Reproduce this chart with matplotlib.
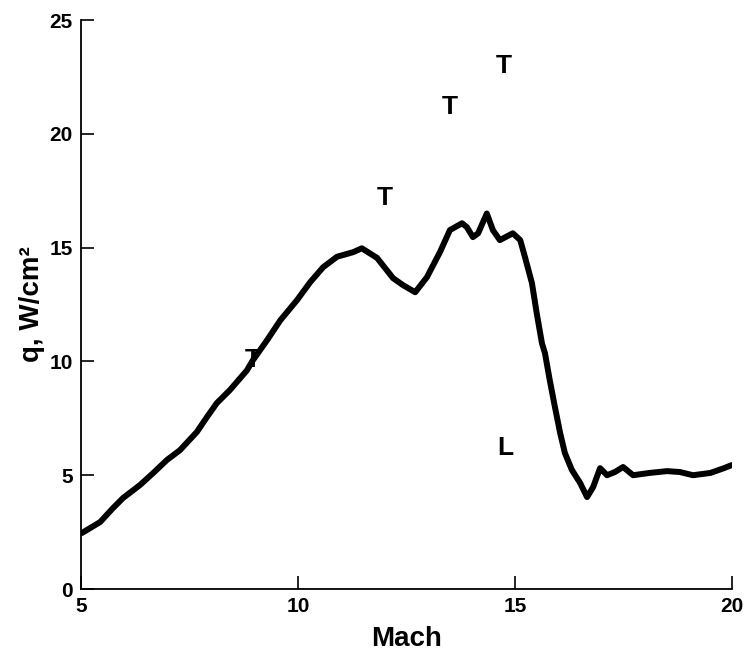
import matplotlib
matplotlib.use("Agg")
import matplotlib.pyplot as plt

plt.rcParams['font.family'] = ['Liberation Sans', 'DejaVu Sans']
plt.rcParams['font.weight'] = 'bold'

# heating curve
mach = [5.02, 5.44, 5.74, 5.97, 6.36, 6.66, 6.98, 7.28, 7.67, 7.9, 8.13,
        8.43, 8.82, 8.96, 9.29, 9.59, 9.98, 10.28, 10.58, 10.9, 11.27,
        11.47, 11.82, 12.19, 12.42, 12.7, 12.97, 13.27, 13.5, 13.78, 13.89,
        14.03, 14.15, 14.35, 14.49, 14.65, 14.95, 15.12, 15.23, 15.39, 15.5,
        15.62, 15.69, 15.8, 15.92, 16.04, 16.15, 16.31, 16.5, 16.66, 16.8,
        16.96, 17.12, 17.3, 17.49, 17.72, 18.1, 18.5, 18.8, 19.1, 19.5,
        19.8, 20.0]
q = [2.46, 2.94, 3.56, 4.0, 4.57, 5.09, 5.67, 6.1, 6.9, 7.55, 8.17,
     8.74, 9.6, 10.05, 10.94, 11.8, 12.7, 13.48, 14.14, 14.6, 14.8,
     14.97, 14.55, 13.66, 13.35, 13.04, 13.7, 14.8, 15.77, 16.07, 15.9,
     15.46, 15.63, 16.5, 15.77, 15.33, 15.63, 15.33, 14.58, 13.44, 12.12,
     10.8, 10.36, 9.18, 7.99, 6.85, 5.97, 5.23, 4.66, 4.04, 4.48,
     5.31, 5.0, 5.14, 5.36, 5.0, 5.1, 5.18, 5.14, 5.0, 5.1,
     5.3, 5.45]

# transition / laminar markers
mark_x = [8.95, 12.0, 13.5, 14.73, 14.77]
mark_y = [10.05, 17.17, 21.2, 23.0, 6.19]
mark_txt = ['T', 'T', 'T', 'T', 'L']

fig = plt.figure(figsize=(7.45, 6.52), dpi=100)
ax = fig.add_axes([0.1087, 0.0966, 0.8739, 0.8727])

ax.plot(mach, q, color='black', linewidth=4.3, solid_joinstyle='round',
        solid_capstyle='round')

for x, y, t in zip(mark_x, mark_y, mark_txt):
    ax.text(x, y, t, fontsize=19, fontweight='bold', ha='center', va='center')

ax.set_xlim(5, 20)
ax.set_ylim(0, 25)
ax.set_xticks([5, 10, 15, 20])
ax.set_yticks([0, 5, 10, 15, 20, 25])

ax.spines['top'].set_visible(False)
ax.spines['right'].set_visible(False)
for s in ['left', 'bottom']:
    ax.spines[s].set_linewidth(1.3)
ax.tick_params(direction='in', length=9.5, width=1.2, labelsize=15, pad=6)
for lab in ax.get_xticklabels() + ax.get_yticklabels():
    lab.set_fontweight('bold')

ax.set_xlabel('Mach', fontsize=20, fontweight='bold', labelpad=7)
ax.set_ylabel('q, W/cm²', fontsize=20, fontweight='bold', labelpad=3)

fig.savefig('out.png', dpi=100)
